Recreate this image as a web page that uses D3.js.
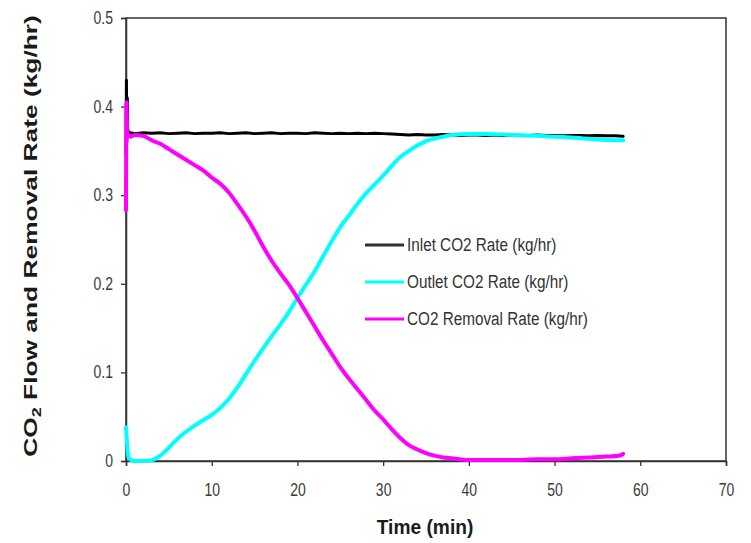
<!DOCTYPE html>
<html><head><meta charset="utf-8">
<script src="https://cdn.jsdelivr.net/npm/d3@7"></script>
<style>
html,body{margin:0;padding:0;background:#fff;}
svg{display:block;font-family:"Liberation Sans",Arial,sans-serif;}
</style></head>
<body>
<svg id="chart" width="751" height="543"></svg>
<script>
// ---- data ----
const xTicks = [0, 10, 20, 30, 40, 50, 60, 70];
const yTicks = [0, 0.1, 0.2, 0.3, 0.4, 0.5];
const seriesNames = ["Inlet CO2 Rate (kg/hr)", "Outlet CO2 Rate (kg/hr)", "CO2 Removal Rate (kg/hr)"];
const seriesColors = ["#000000", "#00ffff", "#ff00ff"];

const inletTime = [0, 0.05, 0.1, 0.15, 0.2, 0.3, 0.5, 1, 2, 3, 4, 5, 6, 7, 8, 9, 10, 11, 12, 13, 14, 15, 16, 17, 18, 19, 20, 21, 22, 23, 24, 25, 26, 27, 28, 29, 30, 31, 32, 33, 34, 35, 36, 37, 38, 39, 40, 41, 42, 43, 44, 45, 46, 47, 48, 49, 50, 51, 52, 53, 54, 55, 56, 57, 58];
const inletRate = [0.345, 0.43, 0.36, 0.41, 0.375, 0.370, 0.3705, 0.3695, 0.3705, 0.370, 0.3705, 0.3695, 0.370, 0.3705, 0.3695, 0.370, 0.3700, 0.3705, 0.3695, 0.370, 0.3705, 0.3695, 0.370, 0.3705, 0.3695, 0.370, 0.370, 0.3695, 0.3705, 0.370, 0.3695, 0.370, 0.3695, 0.370, 0.3695, 0.370, 0.3695, 0.369, 0.3685, 0.368, 0.3685, 0.368, 0.368, 0.3685, 0.368, 0.3675, 0.368, 0.368, 0.3675, 0.368, 0.3675, 0.368, 0.3675, 0.3675, 0.368, 0.3675, 0.3675, 0.367, 0.3675, 0.3675, 0.367, 0.3675, 0.367, 0.3672, 0.3665];

const outletTime = [0, 0.3, 0.6, 1, 2, 3, 4, 5, 6, 7, 8, 9, 10, 11, 12, 13, 14, 15, 16, 17, 18, 19, 20, 21, 22, 23, 24, 25, 26, 27, 28, 29, 30, 31, 32, 33, 34, 35, 36, 37, 38, 40, 42, 45, 48, 50, 52, 55, 58];
const outletRate = [0.038, 0.004, 0.001, 0.000, 0.000, 0.001, 0.006, 0.015, 0.025, 0.033, 0.040, 0.046, 0.052, 0.060, 0.070, 0.083, 0.098, 0.113, 0.127, 0.141, 0.154, 0.168, 0.184, 0.199, 0.214, 0.231, 0.248, 0.264, 0.277, 0.290, 0.302, 0.312, 0.322, 0.333, 0.343, 0.350, 0.356, 0.361, 0.364, 0.366, 0.368, 0.369, 0.369, 0.368, 0.367, 0.366, 0.365, 0.363, 0.362];

const removalTime = [0, 0.05, 0.15, 0.5, 1, 2, 3, 4, 5, 6, 7, 8, 9, 10, 11, 12, 13, 14, 15, 16, 17, 18, 19, 20, 21, 22, 23, 24, 25, 26, 27, 28, 29, 30, 31, 32, 33, 34, 35, 36, 37, 38, 40, 42, 45, 48, 50, 52, 54, 56, 57.5, 58];
const removalRate = [0.283, 0.405, 0.368, 0.366, 0.368, 0.367, 0.362, 0.358, 0.352, 0.346, 0.340, 0.334, 0.328, 0.320, 0.313, 0.303, 0.290, 0.276, 0.260, 0.242, 0.226, 0.212, 0.199, 0.184, 0.168, 0.152, 0.136, 0.121, 0.106, 0.093, 0.081, 0.069, 0.057, 0.047, 0.036, 0.026, 0.018, 0.013, 0.009, 0.006, 0.004, 0.003, 0.001, 0.001, 0.001, 0.002, 0.002, 0.003, 0.004, 0.005, 0.006, 0.008];

// ---- chart ----
const svg = d3.select("#chart");
const x = d3.scaleLinear().domain([0, 70]).range([126, 726]);
const y = d3.scaleLinear().domain([0, 0.5]).range([461, 18]);
const SY = 1.3; // vertical text stretch seen in the reference

// plot frame
svg.append("rect")
  .attr("x", x(0)).attr("y", y(0.5))
  .attr("width", x(70) - x(0)).attr("height", y(0) - y(0.5))
  .attr("fill", "none").attr("stroke", "#333").attr("stroke-width", 1.5);

// axes
const gx = svg.append("g").attr("transform", `translate(0,${y(0)})`)
  .call(d3.axisBottom(x).tickValues(xTicks).tickSize(5).tickFormat(d3.format("d")));
const gy = svg.append("g").attr("transform", `translate(${x(0)},0)`)
  .call(d3.axisLeft(y).tickValues(yTicks).tickSize(5).tickFormat(d => d === 0 ? "0" : d3.format(".1f")(d)));
[gx, gy].forEach(g => {
  g.select(".domain").attr("stroke", "#333").attr("stroke-width", 1.5);
  g.selectAll(".tick line").attr("stroke", "#333").attr("stroke-width", 1.3);
  g.selectAll(".tick text").attr("fill", "#3a3a3a").attr("font-size", 14)
    .attr("font-family", "Liberation Sans, Arial, sans-serif");
});
gx.selectAll(".tick text").attr("y", 0).attr("dy", 0)
  .attr("transform", `translate(0,35) scale(1,${SY})`);
gy.selectAll(".tick text").attr("x", 0).attr("dy", 0)
  .attr("transform", `translate(-13,5.5) scale(1,${SY})`);

// lines
const series = [
  {t: inletTime, v: inletRate, w: 3, c: d3.curveLinear},
  {t: outletTime, v: outletRate, w: 4, c: d3.curveMonotoneX},
  {t: removalTime, v: removalRate, w: 4, c: d3.curveMonotoneX}
];
series.forEach((s, i) => {
  const line = d3.line().x(d => x(d[0])).y(d => y(d[1])).curve(s.c);
  svg.append("path")
    .datum(s.t.map((t, k) => [t, s.v[k]]))
    .attr("d", line)
    .attr("fill", "none")
    .attr("stroke", seriesColors[i])
    .attr("stroke-width", s.w)
    .attr("stroke-linejoin", "round")
    .attr("stroke-linecap", "round");
});

// legend
const legendY = [245, 282, 319];
seriesNames.forEach((name, i) => {
  const g = svg.append("g").attr("transform", `translate(0,${legendY[i]})`);
  g.append("line").attr("x1", 365).attr("x2", 404).attr("y1", 0).attr("y2", 0)
    .attr("stroke", i === 0 ? "#333" : seriesColors[i]).attr("stroke-width", 3);
  g.append("text").attr("transform", `translate(407,5.5) scale(1,1.2)`)
    .attr("font-size", 15.3).attr("fill", "#333").text(name);
});

// x title
svg.append("text")
  .attr("transform", `translate(425,534) scale(1.2,${SY})`)
  .attr("text-anchor", "middle").attr("font-size", 16).attr("font-weight", "bold")
  .attr("fill", "#1a1a1a").text("Time (min)");

// y title (stretched along its length)
const yt = svg.append("text")
  .attr("text-anchor", "middle").attr("font-size", 16).attr("font-weight", "bold")
  .attr("fill", "#1a1a1a");
yt.append("tspan").text("CO");
yt.append("tspan").attr("font-size", 11).attr("dy", 4).text("2");
yt.append("tspan").attr("dy", -4).text(" Flow and Removal Rate (kg/hr)");
const natLen = yt.node().getComputedTextLength();
const sx = 442 / natLen;
yt.attr("transform", `translate(37,236) rotate(-90) scale(${sx},1.1)`);
</script>
</body></html>
